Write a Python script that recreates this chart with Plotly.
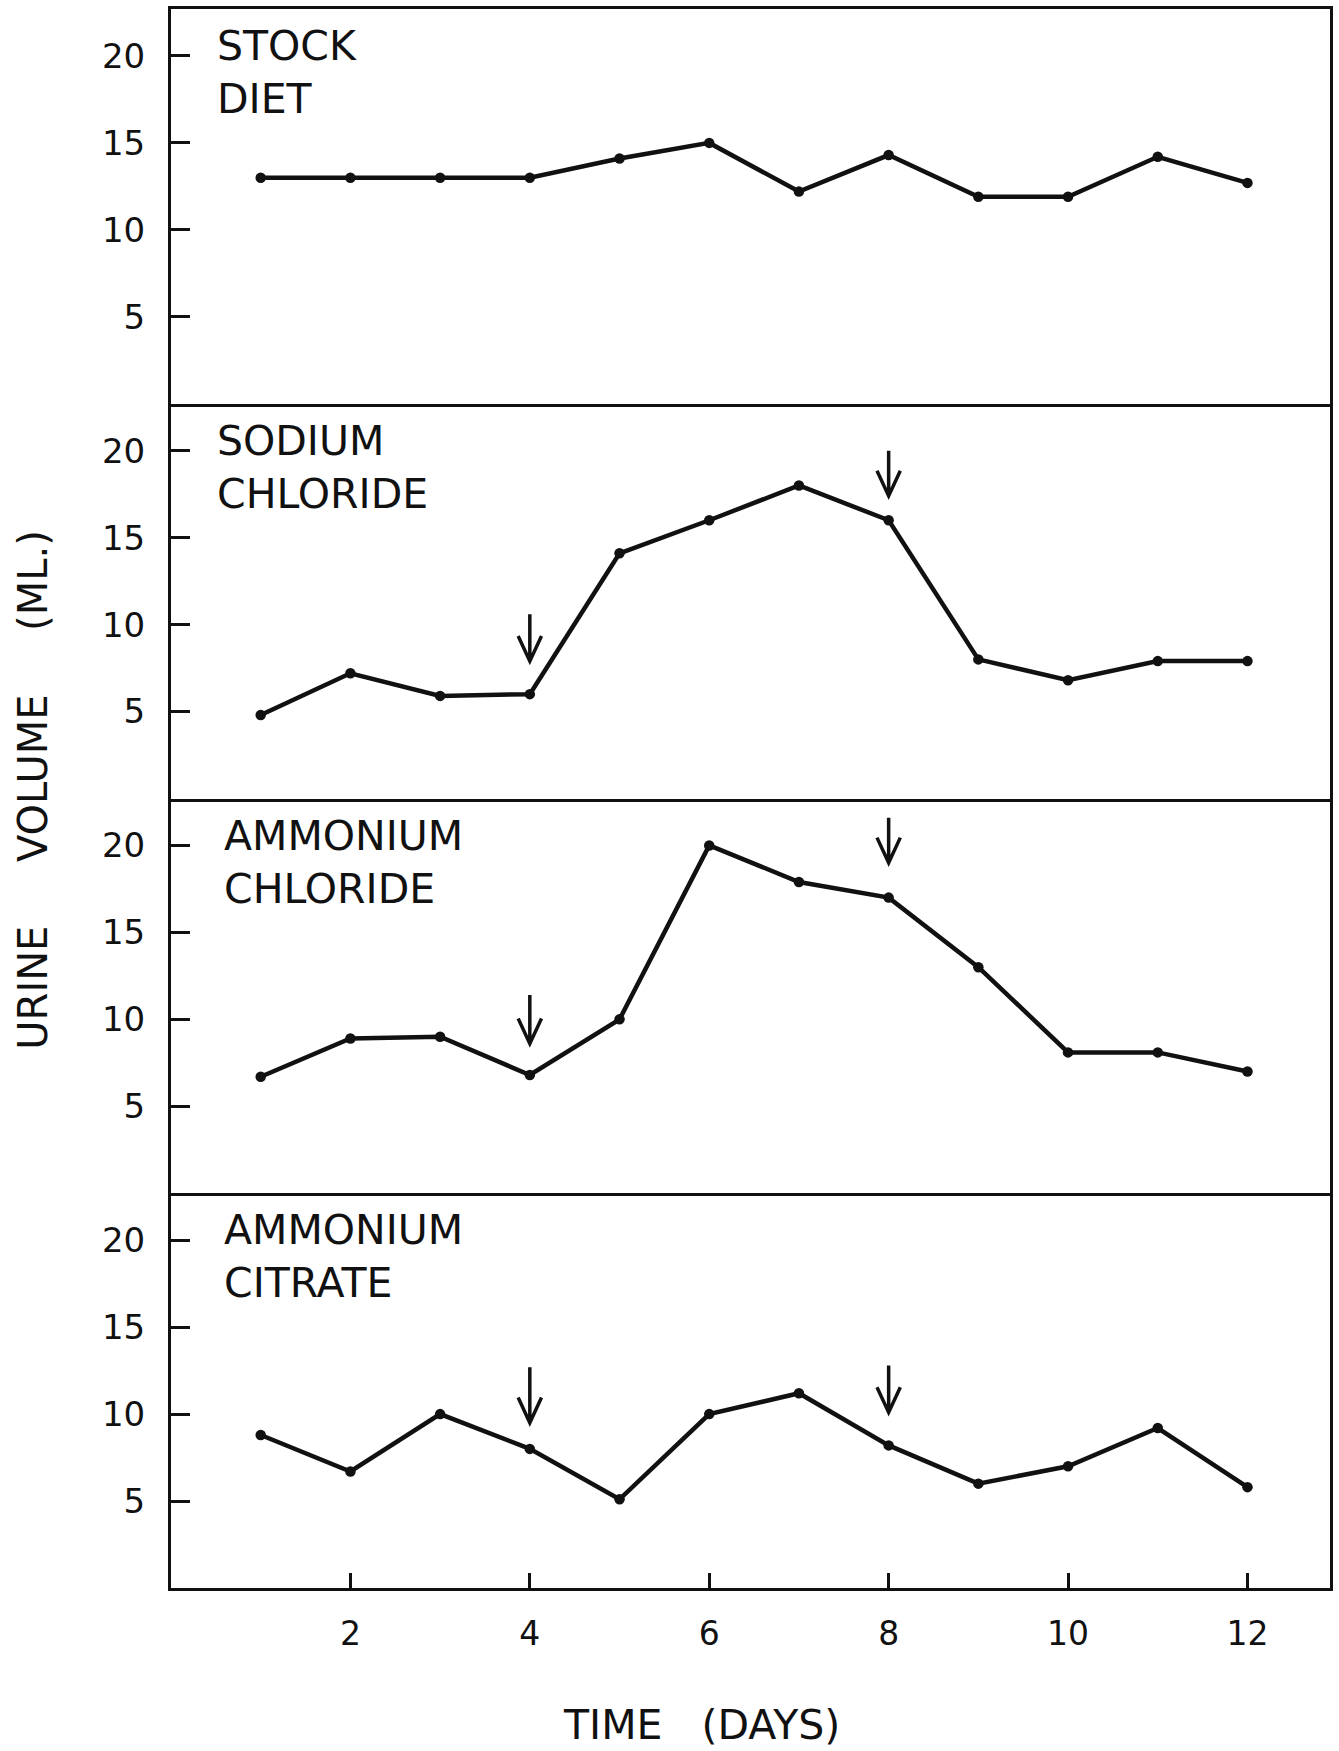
import plotly.graph_objects as go
from plotly.subplots import make_subplots

# Daily urine volume (ml) for each diet, days 1-12
days = [1, 2, 3, 4, 5, 6, 7, 8, 9, 10, 11, 12]
stock_diet = [13, 13, 13, 13, 14.1, 15, 12.2, 14.3, 11.9, 11.9, 14.2, 12.7]
sodium_chloride = [4.8, 7.2, 5.9, 6.0, 14.1, 16.0, 18.0, 16.0, 8.0, 6.8, 7.9, 7.9]
ammonium_chloride = [6.7, 8.9, 9.0, 6.8, 10.0, 20.0, 17.9, 17.0, 13.0, 8.1, 8.1, 7.0]
ammonium_citrate = [8.8, 6.7, 10.0, 8.0, 5.1, 10.0, 11.2, 8.2, 6.0, 7.0, 9.2, 5.8]

panel_series = [stock_diet, sodium_chloride, ammonium_chloride, ammonium_citrate]
panel_labels = ["STOCK<br>DIET", "SODIUM<br>CHLORIDE", "AMMONIUM<br>CHLORIDE", "AMMONIUM<br>CITRATE"]
label_x = [0.49, 0.49, 0.57, 0.57]

# Downward arrows marking the start and end of each salt period
arrow_panel = [2, 2, 3, 3, 4, 4]
arrow_day = [4, 8, 4, 8, 4, 8]
arrow_tip = [7.9, 17.4, 8.6, 19.0, 9.5, 10.1]
arrow_tail = [10.6, 20.0, 11.4, 21.6, 12.7, 12.8]

y_ticks = [5, 10, 15, 20]
x_ticks = [2, 4, 6, 8, 10, 12]
y_range = [0, 22.7]
x_range = [0, 12.92]

FONT = "DejaVu Sans"
INK = "#111111"

fig = make_subplots(rows=4, cols=1, shared_xaxes=True, vertical_spacing=0)

for i, series in enumerate(panel_series):
    fig.add_trace(
        go.Scatter(
            x=days, y=series, mode="lines+markers",
            line=dict(color=INK, width=4.5),
            marker=dict(color=INK, size=10.5),
            showlegend=False, hoverinfo="skip",
        ),
        row=i + 1, col=1,
    )
    fig.update_yaxes(
        range=y_range, tickvals=y_ticks, ticks="inside", ticklen=19, tickwidth=3,
        tickcolor=INK, showline=True, linewidth=3, linecolor=INK, mirror=True,
        showgrid=False, zeroline=False, ticklabelstandoff=16,
        tickfont=dict(family=FONT, size=34, color=INK),
        row=i + 1, col=1,
    )
    # Each panel draws only its bottom edge; the top panel also closes the frame above
    fig.update_xaxes(
        range=x_range, showline=True, linewidth=3, linecolor=INK,
        mirror=(i == 0), showgrid=False, zeroline=False,
        row=i + 1, col=1,
    )
    yref = "y" if i == 0 else f"y{i + 1}"
    xref = "x" if i == 0 else f"x{i + 1}"
    fig.add_annotation(
        text=panel_labels[i], x=label_x[i], xref=xref, xanchor="left",
        y=1, yref=f"{yref} domain", yanchor="top", yshift=-11,
        showarrow=False, align="left",
        font=dict(family=FONT, size=41, color=INK),
    )

# Bottom axis carries the day ticks
fig.update_xaxes(
    tickvals=x_ticks, ticks="inside", ticklen=15, tickwidth=3, tickcolor=INK,
    tickfont=dict(family=FONT, size=33, color=INK), ticklabelstandoff=14,
    row=4, col=1,
)

# Open-headed arrows drawn as path shapes
head_dx = 0.13
head_dy = 1.45
for p, d, tip, tail in zip(arrow_panel, arrow_day, arrow_tip, arrow_tail):
    xref = "x" if p == 1 else f"x{p}"
    yref = "y" if p == 1 else f"y{p}"
    path = (f"M {d},{tail} L {d},{tip} "
            f"M {d - head_dx},{tip + head_dy} L {d},{tip} L {d + head_dx},{tip + head_dy}")
    fig.add_shape(type="path", path=path, xref=xref, yref=yref,
                  line=dict(color=INK, width=3.5))

fig.add_annotation(
    text="URINE     VOLUME     (ML.)", x=-0.119, xref="paper", xanchor="center",
    y=0.505, yref="paper", yanchor="middle", showarrow=False, textangle=-90,
    font=dict(family=FONT, size=40, color=INK),
)
fig.add_annotation(
    text="TIME   (DAYS)", x=0.458, xref="paper", xanchor="center",
    y=-0.087, yref="paper", yanchor="middle", showarrow=False,
    font=dict(family=FONT, size=41, color=INK),
)

fig.update_layout(
    width=1339, height=1751,
    margin=dict(l=171, r=6, t=8, b=163),
    paper_bgcolor="white", plot_bgcolor="white",
)

fig.write_html("out.html")
